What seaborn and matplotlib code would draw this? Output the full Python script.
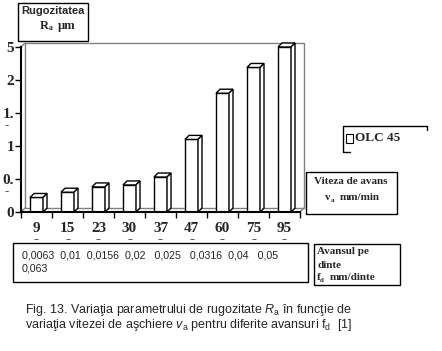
import numpy as np
import pandas as pd
import seaborn as sns
import matplotlib.pyplot as plt
from matplotlib.patches import Polygon, Rectangle
from matplotlib.lines import Line2D

# Data
viteza = ['9', '15', '23', '30', '37', '47', '60', '75', '95']
rugozitate = [0.22, 0.30, 0.38, 0.41, 0.53, 1.10, 1.80, 2.19, 2.50]
y_ticks = [0, 0.5, 1, 1.5, 2, 2.5]
y_labels = ['0', '0.', '1', '1.', '2', '5']
avans_text = '0,0063  0,01  0,0156  0,02   0,025   0,0316  0,04   0,05\n0,063'

df = pd.DataFrame({'v': viteza, 'Ra': rugozitate})

W, H = 442, 351
sns.set_style('white')
plt.rcParams['font.family'] = ['Liberation Serif', 'DejaVu Serif']
plt.rcParams['mathtext.fontset'] = 'custom'
plt.rcParams['mathtext.rm'] = 'Liberation Sans'
plt.rcParams['mathtext.it'] = 'Liberation Sans:italic'

fig = plt.figure(figsize=(W / 100, H / 100), dpi=100)


def fx(px):
    return px / W


def fy(py):
    return 1 - py / H


ax = fig.add_axes([fx(21), fy(212), (300 - 21) / W, (212 - 47) / H])
sns.barplot(data=df, x='v', y='Ra', ax=ax, width=0.42, color='white',
            saturation=1, edgecolor='black', linewidth=1, zorder=3)
ax.set_xlim(-0.5, 8.5)
ax.set_ylim(0, 2.5)
ax.set_xlabel('')
ax.set_ylabel('')

# depth of the 3D effect: 4 px right, 4 px up
p0 = ax.transData.transform((0, 0))
p1 = ax.transData.transform((1, 1))
dx = 4 / (p1[0] - p0[0])
dy = 4 / (p1[1] - p0[1])

# back wall
ax.add_patch(Rectangle((-0.5 + dx, dy), 9, 2.5, fill=False, edgecolor='#808080',
                       lw=1, clip_on=False, zorder=1))
for (xa, ya) in [(-0.5, 2.5), (-0.5, 0), (8.5, 0)]:
    ax.add_line(Line2D([xa, xa + dx], [ya, ya + dy], color='#808080', lw=1,
                       clip_on=False, zorder=1))

# tops and sides of the bars
for p in list(ax.patches)[:len(viteza)]:
    x0, w, h = p.get_x(), p.get_width(), p.get_height()
    top = [(x0, h), (x0 + dx, h + dy), (x0 + w + dx, h + dy), (x0 + w, h)]
    side = [(x0 + w, 0), (x0 + w, h), (x0 + w + dx, h + dy), (x0 + w + dx, dy)]
    for poly in (top, side):
        ax.add_patch(Polygon(poly, closed=True, facecolor='white', edgecolor='black',
                             lw=1, clip_on=False, zorder=3))

for s in ['top', 'right']:
    ax.spines[s].set_visible(False)
for s in ['left', 'bottom']:
    ax.spines[s].set_color('black')
    ax.spines[s].set_linewidth(1.5)
    ax.spines[s].set_zorder(4)

ax.set_yticks(y_ticks)
ax.set_yticklabels(y_labels, fontsize=11, fontweight='bold')
ax.tick_params(axis='y', direction='out', length=4, width=1, color='black', pad=1, left=True)

ax.set_xticks(np.arange(-0.5, 9, 1))
ax.set_xticklabels([])
ax.set_xticks(np.arange(9), minor=True)
ax.set_xticklabels([v + '\n-' for v in viteza], minor=True, fontsize=11,
                   fontweight='bold', linespacing=0.8)
ax.tick_params(axis='x', which='major', direction='out', length=4, width=1,
               color='black', bottom=True)
ax.tick_params(axis='x', which='minor', length=0, pad=7)

for yv in [0.5, 1.5]:
    ax.annotate('-', xy=(0, yv), xycoords=('axes fraction', 'data'),
                xytext=(-10, -9), textcoords='offset points', fontsize=9,
                fontweight='bold', ha='center', va='center')


def box(x0, y0, x1, y1, lw=1):
    fig.patches.append(Rectangle((fx(x0), fy(y1)), (x1 - x0) / W, (y1 - y0) / H,
                                 transform=fig.transFigure, fill=False,
                                 edgecolor='black', lw=lw))


# y axis title box
box(18, 3, 88, 41)
fig.text(fx(53), fy(11), 'Rugozitatea', family='Liberation Sans', fontsize=8,
         fontweight='bold', ha='center', va='center')
fig.text(fx(49), fy(26), 'R', fontsize=9, fontweight='bold', ha='right', va='center')
fig.text(fx(49), fy(28), 'a', fontsize=5.5, fontweight='bold', ha='left', va='center')
fig.text(fx(58), fy(26), '\u00b5m', fontsize=9, fontweight='bold', ha='left', va='center')

# legend (frame only partly drawn, as in the picture)
fig.lines.append(Line2D([fx(350), fx(343), fx(343), fx(427), fx(427)],
                        [fy(152), fy(152), fy(126), fy(126), fy(130)],
                        transform=fig.transFigure, color='black', lw=1))
fig.patches.append(Rectangle((fx(346), fy(143)), 7 / W, 9 / H, transform=fig.transFigure,
                             facecolor='white', edgecolor='black', lw=0.8))
fig.text(fx(355), fy(138), 'OLC 45', fontsize=9.5, fontweight='bold', va='center')

# x axis title box
box(306, 172, 397, 214)
fig.text(fx(351), fy(181), 'Viteza de avans', fontsize=8, fontweight='bold',
         ha='center', va='center')
fig.text(fx(328), fy(198), 'v', fontsize=8, fontweight='bold', ha='center', va='center')
fig.text(fx(331), fy(200), 'a', fontsize=5, fontweight='bold', ha='left', va='center')
fig.text(fx(340), fy(198), 'mm/min', fontsize=8, fontweight='bold', ha='left', va='center')

# feed values box
box(13, 243, 308, 282)
fig.text(fx(22), fy(262), avans_text, family='Liberation Sans', fontsize=7.7,
         va='center', linespacing=1.35)

box(314, 244, 400, 285)
fig.text(fx(317), fy(251), 'Avansul pe', fontsize=8, fontweight='bold', va='center')
fig.text(fx(317), fy(265), 'dinte', fontsize=8, fontweight='bold', va='center')
fig.text(fx(317), fy(278), 'f', fontsize=8, fontweight='bold', va='center')
fig.text(fx(320), fy(280), 'd', fontsize=5, fontweight='bold', va='center')
fig.text(fx(330), fy(278), 'mm/dinte', fontsize=8, fontweight='bold', va='center')

# caption
fig.text(fx(25), fy(310),
         'Fig. 13. Varia\u0163ia parametrului de rugozitate $R_{\\mathregular{a}}$ '
         '\u00een func\u0163ie de',
         family='Liberation Sans', fontsize=9, va='center')
fig.text(fx(25), fy(325),
         'varia\u0163ia vitezei de a\u015fchiere $v_{\\mathregular{a}}$ pentru diferite '
         'avansuri f$_{\\mathregular{d}}$  [1]',
         family='Liberation Sans', fontsize=9, va='center')

fig.savefig('out.png', dpi=100, facecolor='white')
